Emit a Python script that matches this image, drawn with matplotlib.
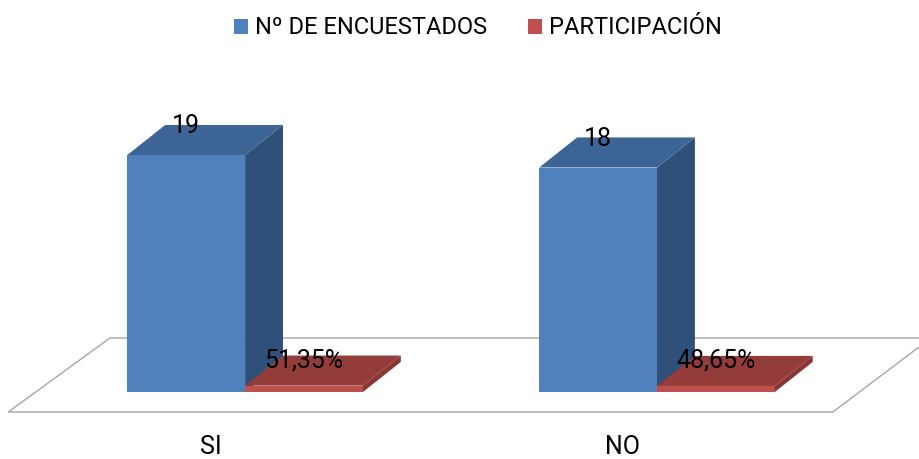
import matplotlib
matplotlib.use("Agg")
import matplotlib.pyplot as plt
from matplotlib.patches import Polygon, Patch

plt.rcParams['font.family'] = ['Liberation Sans Narrow', 'Roboto', 'DejaVu Sans']

# data
categories = ["SI", "NO"]
encuestados = [19, 18]
participacion = [0.5135, 0.4865]
series_names = ["Nº DE ENCUESTADOS", "PARTICIPACIÓN"]

# colours: front, top, side
BLUE = ("#4F81BD", "#3C6494", "#2F5179")
RED = ("#C0504D", "#943C39", "#8A3634")
FLOOR_EDGE = "#A6A6A6"

BAR_W = 0.286     # bar width in category units
DX, DY = 0.092, 2.41   # depth offset of the 3d boxes

fig = plt.figure(figsize=(9.19, 4.59), dpi=100)
ax = fig.add_axes([0, 0, 1, 1])
ax.set_xlim(-0.595, 1.636)
ax.set_ylim(-5.37, 31.43)
ax.axis("off")

# floor plane
floor = Polygon([(-0.575, -1.60), (1.427, -1.60), (1.665, 4.33), (-0.328, 4.33)],
                closed=True, facecolor="white", edgecolor=FLOOR_EDGE, lw=1.0, zorder=1)
ax.add_patch(floor)


def box(x0, h, colors, z):
    x1 = x0 + BAR_W
    front, top, side = colors
    ax.add_patch(Polygon([(x0, 0), (x1, 0), (x1, h), (x0, h)],
                         facecolor=front, edgecolor="none", zorder=z))
    ax.add_patch(Polygon([(x1, 0), (x1 + DX, DY), (x1 + DX, h + DY), (x1, h)],
                         facecolor=side, edgecolor="none", zorder=z))
    ax.add_patch(Polygon([(x0, h), (x1, h), (x1 + DX, h + DY), (x0 + DX, h + DY)],
                         facecolor=top, edgecolor="none", zorder=z))


def fmt_pct(v):
    return f"{v * 100:.2f}%".replace(".", ",")


z = 2
for i, (cat, n, p) in enumerate(zip(categories, encuestados, participacion)):
    box(i - BAR_W, n, BLUE, z)
    box(i, p, RED, z + 1)
    z += 2
    ax.text(i - BAR_W / 2, n + DY * 0.95, str(n), ha="center", va="center",
            fontsize=18, color="black", zorder=10)
    ax.text(i + BAR_W / 2, p + DY * 0.85, fmt_pct(p), ha="center", va="center",
            fontsize=18, color="black", zorder=10)
    ax.text(i - 0.083, -4.41, cat, ha="center", va="center", fontsize=18,
            color="black", zorder=10)

handles = [Patch(facecolor=BLUE[0], edgecolor="none"),
           Patch(facecolor=RED[0], edgecolor="none")]
fig.legend(handles, series_names, loc="center", ncol=2,
           bbox_to_anchor=(478 / 919, 1 - 28 / 459), frameon=False,
           fontsize=17, handlelength=0.6, handleheight=0.6,
           handletextpad=0.3, columnspacing=1.7)

fig.savefig("out.png", dpi=100)
